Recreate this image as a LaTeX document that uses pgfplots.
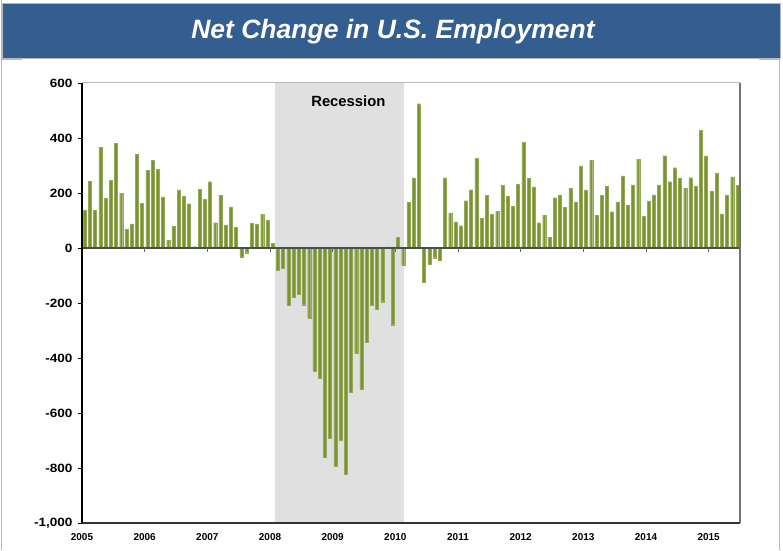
\documentclass[border=0pt]{standalone}
\usepackage{pgfplots}
\pgfplotsset{compat=1.18}
\usepackage{pgfplotstable}
\usepackage{fontspec}
\setmainfont{Liberation Sans}
\newfontfamily\widesans[FakeStretch=1.13]{Liberation Sans}
\definecolor{titleblue}{RGB}{52,94,143}
\definecolor{barcol}{RGB}{122,148,48}
\definecolor{recgray}{RGB}{224,224,224}
\definecolor{framegray}{RGB}{185,185,185}

% Monthly net change, Jan 2005 - Jun 2015 (thousands)
\pgfplotstableread{
v
137
243
137
367
180
247
380
200
69
88
341
162
282
320
286
186
27
80
211
189
161
5
214
178
241
92
192
84
150
75
-33
-17
90
88
122
101
18
-82
-74
-208
-179
-167
-206
-255
-448
-472
-762
-692
-793
-699
-821
-525
-383
-512
-342
-207
-223
-195
4
-279
40
-63
167
255
525
-125
-58
-35
-44
255
126
95
81
172
212
327
109
192
122
133
229
189
152
232
385
253
222
92
119
40
183
193
149
218
168
298
211
320
120
192
224
132
168
262
155
230
322
115
171
193
230
336
241
292
255
218
256
225
429
335
206
272
124
193
259
228
}\emp

\begin{document}
\begin{tikzpicture}
\useasboundingbox (0pt,0pt) rectangle (783pt,550pt);
\fill[white] (0pt,0pt) rectangle (783pt,550pt);
% outer frame pieces
\draw[framegray, line width=1.5pt] (1.5pt,0pt) -- (1.5pt,550pt);
\draw[framegray, line width=1.5pt] (779.5pt,0pt) -- (779.5pt,490pt);
\draw[framegray, line width=1pt] (1.5pt,490pt) -- (22pt,490pt);
\draw[framegray, line width=1pt] (759pt,490pt) -- (779.5pt,490pt);
% title banner
\fill[titleblue, draw=framegray, line width=0.8pt] (2.5pt,492pt) rectangle (780pt,547pt);
\node[anchor=base, text=white, font=\bfseries\itshape\fontsize{26.5}{31}\selectfont, inner sep=0pt]
  at (393pt,511pt) {Net Change in U.S. Employment};

\begin{axis}[
  at={(82pt,27pt)}, anchor=south west,
  scale only axis, width=658pt, height=440pt,
  xmin=0, xmax=126, ymin=-1000, ymax=600,
  axis line style={draw=none},
  xtick={0,12,...,120},
  xticklabels={2005,2006,2007,2008,2009,2010,2011,2012,2013,2014,2015},
  xtick style={draw=none},
  xticklabel style={font=\bfseries\fontsize{10}{12}\selectfont, yshift=-2pt},
  ytick={-1000,-800,...,600},
  ytick pos=left,
  tick align=outside,
  major tick length=4.5pt,
  ytick style={black, line width=0.6pt},
  scaled y ticks=false,
  yticklabel style={font=\widesans\bfseries\fontsize{12}{14}\selectfont, xshift=-1.5pt,
    /pgf/number format/.cd, 1000 sep={,}, assume math mode=true},
  clip=false,
]
% recession shading
\fill[recgray] (axis cs:37,-1000) rectangle (axis cs:61.7,600);
\node[font=\bfseries\fontsize{14.8}{17}\selectfont] at (axis cs:51,533) {Recession};
% bars
\addplot[ybar, bar width=3pt, fill=barcol, draw=barcol!80!white, line width=0.2pt]
  table[x expr=\coordindex+0.5, y=v] {\emp};
% zero line with year ticks
\draw[black!70, line width=1.3pt] (axis cs:0,0) -- (axis cs:126,0);
\pgfplotsinvokeforeach{12,24,...,120}{
  \draw[black!60, line width=0.6pt] (axis cs:#1,0) -- ([yshift=-3.5pt]axis cs:#1,0);
}
% frame
\draw[framegray, line width=1pt] (axis cs:0,600) -- (axis cs:126,600);
\draw[black!55, line width=1.2pt] (axis cs:126,600) -- (axis cs:126,-1000);
\draw[black!80, line width=1.8pt] (axis cs:0,-1000) -- (axis cs:126,-1000);
\draw[black, line width=1.3pt] (axis cs:0,-1000) -- (axis cs:0,600);
\end{axis}
\end{tikzpicture}
\end{document}
